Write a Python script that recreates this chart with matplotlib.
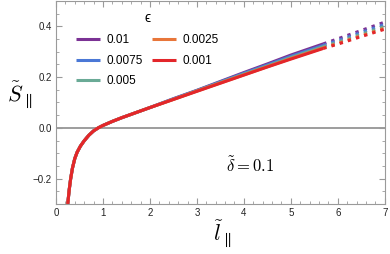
import matplotlib
matplotlib.use('Agg')
import matplotlib.pyplot as plt
from matplotlib.ticker import MultipleLocator

plt.rcParams['mathtext.fontset'] = 'cm'
plt.rcParams['font.family'] = ['Liberation Sans', 'DejaVu Sans']

eps_labels = ['0.01', '0.0075', '0.005', '0.0025', '0.001']
colors = ['#7b3294', '#4a78d6', '#6aaa96', '#e8763a', '#e3262a']

# solid part
l_solid = [0.25, 0.28, 0.31, 0.35, 0.40, 0.45, 0.52, 0.6, 0.7, 0.8, 0.9, 1.0, 1.2,
           1.4, 1.7, 2.0, 2.5, 3.0, 3.5, 4.0, 4.5, 5.0, 5.69]
s_001 = [-0.300, -0.246, -0.203, -0.159, -0.121, -0.096, -0.072, -0.051, -0.029, -0.012,
         0.000, 0.0095, 0.0255, 0.040, 0.060, 0.080, 0.115, 0.148, 0.183, 0.218, 0.252,
         0.287, 0.331]
s_00075 = [-0.300, -0.246, -0.203, -0.159, -0.121, -0.096, -0.072, -0.051, -0.029, -0.012,
           0.000, 0.0095, 0.0255, 0.040, 0.060, 0.080, 0.114, 0.147, 0.181, 0.215, 0.248,
           0.282, 0.325]
s_0005 = [-0.300, -0.246, -0.203, -0.159, -0.121, -0.096, -0.072, -0.051, -0.029, -0.012,
          0.000, 0.0095, 0.0255, 0.040, 0.060, 0.080, 0.113, 0.146, 0.179, 0.212, 0.244,
          0.277, 0.320]
s_00025 = [-0.300, -0.246, -0.203, -0.159, -0.121, -0.096, -0.072, -0.051, -0.029, -0.012,
           0.000, 0.0095, 0.0255, 0.040, 0.060, 0.080, 0.112, 0.145, 0.177, 0.209, 0.241,
           0.273, 0.315]
s_0001 = [-0.300, -0.246, -0.203, -0.159, -0.121, -0.096, -0.072, -0.051, -0.029, -0.012,
          0.000, 0.0095, 0.0255, 0.040, 0.060, 0.080, 0.112, 0.144, 0.176, 0.208, 0.240,
          0.271, 0.313]

# dotted continuation
l_dot = [5.69, 6.0, 6.5, 7.0]
d_001 = [0.331, 0.351, 0.384, 0.417]
d_00075 = [0.325, 0.344, 0.376, 0.408]
d_0005 = [0.320, 0.338, 0.369, 0.400]
d_00025 = [0.315, 0.333, 0.363, 0.393]
d_0001 = [0.313, 0.330, 0.360, 0.389]

solid = [s_001, s_00075, s_0005, s_00025, s_0001]
dotted = [d_001, d_00075, d_0005, d_00025, d_0001]

fig = plt.figure(figsize=(3.9, 2.54), dpi=100)
ax = fig.add_axes([0.1436, 0.197, 0.843, 0.799])

ax.axhline(0, color='#8c8c8c', lw=1.2, zorder=1)

for lab, c, ys, yd in zip(eps_labels, colors, solid, dotted):
    ax.plot(l_solid, ys, color=c, lw=2.2, label=lab, solid_capstyle='butt',
            solid_joinstyle='round')
    ax.plot(l_dot, yd, color=c, lw=2.2, dashes=(1.1, 1.7), dash_capstyle='butt')

ax.set_xlim(0, 7)
ax.set_ylim(-0.3, 0.5)
ax.xaxis.set_major_locator(MultipleLocator(1))
ax.xaxis.set_minor_locator(MultipleLocator(0.2))
ax.yaxis.set_minor_locator(MultipleLocator(0.05))
ax.set_yticks([-0.2, 0.0, 0.2, 0.4])
ax.set_yticklabels(['\u22120.2', '0.0', '0.2', '0.4'])

for sp in ax.spines.values():
    sp.set_color('#9a9a9a')
ax.tick_params(which='both', direction='in', top=True, right=True,
               color='#9a9a9a', labelsize=7, labelcolor='#222222', pad=3)
ax.tick_params(which='major', length=4, width=0.8)
ax.tick_params(which='minor', length=2, width=0.6)

ax.set_ylabel(r'$\tilde{S}_{\parallel}$', fontsize=16, rotation=0, va='center', ha='center')
ax.yaxis.set_label_coords(-0.11, 0.54)
ax.set_xlabel(r'$\tilde{l}_{\parallel}$', fontsize=16, va='center')
ax.xaxis.set_label_coords(0.505, -0.145)

ax.text(0.59, 0.19, r'$\tilde{\delta} = 0.1$', fontsize=12, transform=ax.transAxes,
        ha='center', va='center')

leg = ax.legend(ncol=2, title='\u03f5', frameon=False, loc='upper left',
                bbox_to_anchor=(0.062, 0.95), fontsize=8.5, handlelength=2.0,
                handletextpad=0.55, columnspacing=0.8, labelspacing=0.74,
                borderpad=0, borderaxespad=0)
leg.get_title().set_fontsize(10)

fig.savefig('out.png', dpi=100)
